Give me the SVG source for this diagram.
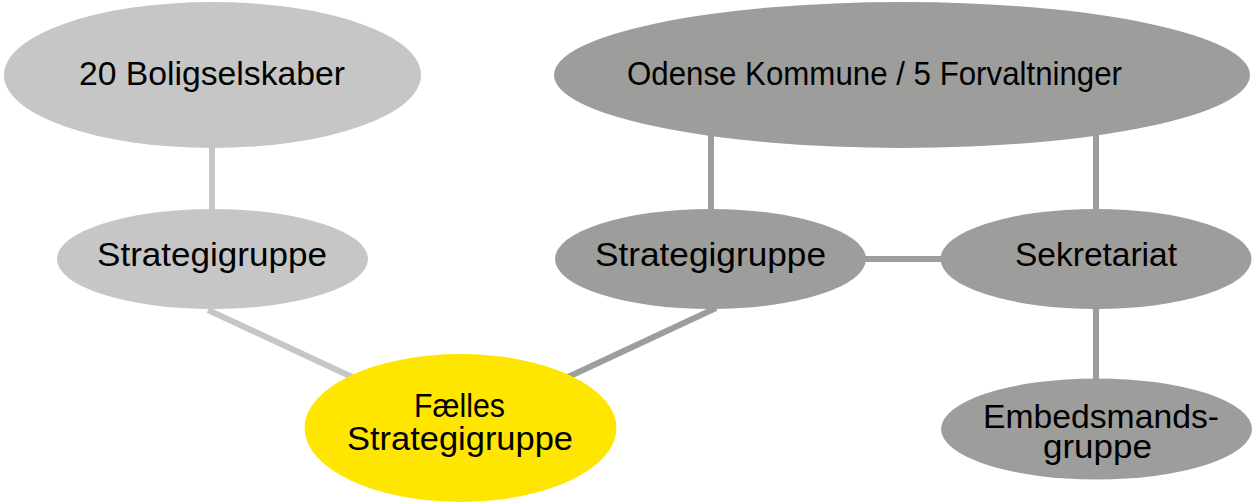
<svg xmlns="http://www.w3.org/2000/svg" width="1257" height="504" viewBox="0 0 1257 504">
<style>
.light{fill:#c6c6c6}
.dark{fill:#9d9d9c}
.yellow{fill:#ffe600}
.cl{stroke:#c6c6c6;stroke-width:6;fill:none}
.cd{stroke:#9d9d9c;stroke-width:6;fill:none}
text{font-family:"Liberation Sans",Arial,sans-serif;font-size:34px;fill:#000;text-anchor:middle}
</style>
<rect width="1257" height="504" fill="#fff"/>
<g id="connectors">
<line class="cl" x1="212" y1="140" x2="212" y2="215"/>
<line class="cl" x1="208" y1="310" x2="352" y2="377"/>
<line class="cd" x1="711" y1="130" x2="711" y2="213"/>
<line class="cd" x1="1096" y1="130" x2="1096" y2="213"/>
<line class="cd" x1="860" y1="259" x2="946" y2="259"/>
<line class="cd" x1="1096" y1="303" x2="1096" y2="384"/>
<line class="cd" x1="716" y1="308" x2="568" y2="377"/>
</g>
<g id="boligselskaber">
<ellipse class="light" cx="212.5" cy="75" rx="208.5" ry="73"/>
<text x="212" y="85" textLength="266" lengthAdjust="spacingAndGlyphs">20 Boligselskaber</text>
</g>
<g id="odense">
<ellipse class="dark" cx="902" cy="75" rx="348" ry="73"/>
<text x="874.5" y="85" textLength="495" lengthAdjust="spacingAndGlyphs">Odense Kommune / 5 Forvaltninger</text>
</g>
<g id="strategi-left">
<ellipse class="light" cx="212.5" cy="259" rx="155.5" ry="50"/>
<text x="212" y="266" textLength="230" lengthAdjust="spacingAndGlyphs">Strategigruppe</text>
</g>
<g id="strategi-right">
<ellipse class="dark" cx="710.5" cy="259" rx="155.5" ry="50"/>
<text x="710.5" y="266" textLength="231" lengthAdjust="spacingAndGlyphs">Strategigruppe</text>
</g>
<g id="sekretariat">
<ellipse class="dark" cx="1096" cy="259" rx="155.5" ry="50"/>
<text x="1096" y="266" textLength="162" lengthAdjust="spacingAndGlyphs">Sekretariat</text>
</g>
<g id="embedsmandsgruppe">
<ellipse class="dark" cx="1096.5" cy="429" rx="155.5" ry="50.5"/>
<text><tspan x="1101" y="428" textLength="236" lengthAdjust="spacingAndGlyphs">Embedsmands-</tspan><tspan x="1097.5" y="458" textLength="109" lengthAdjust="spacingAndGlyphs">gruppe</tspan></text>
</g>
<g id="faelles">
<ellipse class="yellow" cx="460.5" cy="428" rx="156" ry="74"/>
<text><tspan x="459.5" y="417" textLength="91" lengthAdjust="spacingAndGlyphs">Fælles</tspan><tspan x="460" y="450" textLength="226" lengthAdjust="spacingAndGlyphs">Strategigruppe</tspan></text>
</g>
</svg>
